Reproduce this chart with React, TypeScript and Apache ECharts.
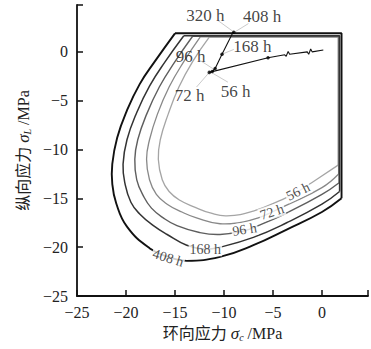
import React, { useEffect, useRef } from 'react';
import * as echarts from 'echarts';

// Axis ranges and ticks
const X_MIN = -25;
const X_MAX = 4.7;
const Y_MIN = -25;
const Y_MAX = 4.8;
const xTickLabels = [-25, -20, -15, -10, -5, 0];
const yTickLabels = [-25, -20, -15, -10, -5, 0];

// Contour envelopes: straight parts (right edge + top edge)
const edge408 = [[2.0, -15.0], [2.0, 1.9], [-15.0, 1.9]];
const edge168 = [[1.8, -14.3], [1.8, 1.65], [-14.1, 1.65]];
const edge96 = [[1.75, -13.4], [1.75, 1.6], [-13.2, 1.6]];
const edge72 = [[1.7, -12.5], [1.7, 1.55], [-12.4, 1.55]];
const edge56 = [[1.65, -11.6], [1.65, 1.5], [-11.5, 1.5]];

// Contour envelopes: curved parts
const curve408 = [
  [-15.0, 1.9], [-17.0, -0.9], [-18.6, -3.3], [-19.9, -6.0], [-20.9, -8.8], [-21.4, -11.5],
  [-21.4, -13.5], [-21.0, -15.5], [-19.9, -17.9], [-17.6, -20.1], [-15.7, -21.0], [-13.8, -21.4],
  [-10.4, -21.0], [-7.0, -19.8], [-3.6, -18.2], [0.0, -16.4], [2.0, -15.0],
];
const curve168 = [
  [-14.1, 1.65], [-16.0, -1.0], [-17.6, -3.5], [-18.9, -6.2], [-19.9, -9.0], [-20.3, -11.5],
  [-20.1, -13.5], [-19.5, -15.4], [-18.6, -16.6], [-17.2, -17.8], [-15.8, -18.7], [-13.8, -19.8],
  [-11.9, -20.2], [-10.4, -20.0], [-7.0, -19.0], [-3.6, -17.5], [0.0, -15.6], [1.8, -14.3],
];
const curve96 = [
  [-13.2, 1.6], [-15.0, -1.0], [-16.6, -3.6], [-17.9, -6.4], [-18.8, -9.0], [-19.1, -11.0],
  [-18.9, -13.1], [-18.2, -14.8], [-17.4, -16.0], [-16.2, -17.0], [-14.8, -17.8], [-12.5, -18.5],
  [-10.4, -18.7], [-7.9, -18.3], [-6.5, -17.8], [-3.6, -16.5], [0.0, -14.6], [1.75, -13.4],
];
const curve72 = [
  [-12.4, 1.55], [-14.1, -1.0], [-15.6, -3.6], [-16.8, -6.4], [-17.6, -9.0], [-17.9, -11.0],
  [-17.6, -13.1], [-16.9, -14.6], [-15.8, -15.6], [-14.3, -16.4], [-12.8, -17.0], [-10.4, -17.6],
  [-8.0, -17.4], [-6.5, -17.0], [-5.1, -16.4], [-3.6, -15.7], [0.0, -13.9], [1.7, -12.5],
];
const curve56 = [
  [-11.5, 1.5], [-13.2, -1.0], [-14.6, -3.6], [-15.7, -6.4], [-16.5, -9.0], [-16.7, -11.0],
  [-16.3, -13.1], [-15.6, -14.3], [-14.5, -15.2], [-13.0, -15.9], [-11.4, -16.5], [-9.7, -16.8],
  [-7.0, -16.3], [-4.0, -15.1], [-2.45, -14.3], [-1.05, -13.4], [1.65, -11.6],
];

// Labels on the contours
const contourLabelNames = ['56 h', '72 h', '96 h', '168 h', '408 h'];
const contourLabelPos = [[-2.45, -14.3], [-5.1, -16.4], [-7.9, -18.2], [-11.9, -20.2], [-15.7, -21.1]];
const contourLabelRot = [26, 18, 9, 0, -17];

// Stress trajectory
const trajectory = [
  [0.14, 0.2], [-1.0, 0.0], [-1.15, 0.3], [-1.35, -0.25], [-1.5, 0.0],
  [-3.3, -0.25], [-3.45, 0.05], [-3.65, -0.45], [-3.8, -0.3],
  [-5.5, -0.6], [-11.5, -2.1], [-11.2, -2.0], [-10.9, -1.7], [-10.2, -0.24], [-9.1, 1.95], [-8.95, 2.0],
];
const trajDots = [[-5.5, -0.6], [-11.5, -2.1], [-11.2, -2.0], [-10.9, -1.7], [-10.2, -0.24], [-9.0, 2.0]];

// Trajectory time labels
const trajLabelNames = ['320 h', '408 h', '168 h', '96 h', '72 h', '56 h'];
const trajLabelPos = [[-11.9, 3.7], [-6.1, 3.6], [-7.1, 0.5], [-13.4, -0.5], [-13.5, -4.5], [-8.8, -4.1]];

// Leader lines from trajectory points to labels
const leaders = [
  [[-8.95, 2.0], [-10.6, 3.2]],
  [[-8.95, 2.0], [-7.5, 2.9]],
  [[-10.2, -0.24], [-9.0, 0.25]],
  [[-12.4, -0.9], [-11.0, -1.8]],
  [[-11.3, -2.1], [-9.6, -3.1]],
  [[-11.5, -2.1], [-12.8, -3.6]],
];

const FONT = 'Liberation Serif, Times New Roman, Noto Sans CJK SC, serif';

const fmt = (v: number) => (v < 0 ? '\u2212' + Math.abs(v) : String(v));

export default function App() {
  const ref = useRef<HTMLDivElement>(null);
  useEffect(() => {
    if (!ref.current) return;
    const chart = echarts.init(ref.current, undefined, { renderer: 'svg' });

    const contours = [
      { edge: edge56, curve: curve56, color: '#a5a5a5', width: 1.3 },
      { edge: edge72, curve: curve72, color: '#888888', width: 1.3 },
      { edge: edge96, curve: curve96, color: '#5e5e5e', width: 1.4 },
      { edge: edge168, curve: curve168, color: '#333333', width: 1.5 },
      { edge: edge408, curve: curve408, color: '#111111', width: 1.9 },
    ];

    const series: any[] = [];
    contours.forEach((c, i) => {
      series.push({
        type: 'line', data: c.edge, symbol: 'none', smooth: false, z: 2 + i,
        lineStyle: { color: c.color, width: c.width },
      });
      const curve = c.curve;
      series.push({
        type: 'custom', data: curve, z: 2 + i,
        encode: { x: 0, y: 1 },
        renderItem: (params: any, api: any) => {
          if (params.dataIndex !== 0) return null;
          const pts = curve.map((p) => api.coord(p));
          return {
            type: 'polyline',
            shape: { points: pts, smooth: 0.45 },
            style: { stroke: c.color, lineWidth: c.width, fill: null },
          };
        },
      });
    });

    leaders.forEach((l) => {
      series.push({
        type: 'line', data: l, symbol: 'none', z: 8,
        lineStyle: { color: '#c4c4c4', width: 0.9 },
      });
    });

    series.push({
      type: 'line', data: trajectory, symbol: 'none', z: 12,
      lineStyle: { color: '#111', width: 1.1 },
    });
    series.push({
      type: 'scatter', data: trajDots, symbolSize: 3.5, z: 13,
      itemStyle: { color: '#000' },
    });

    series.push({
      type: 'scatter', symbolSize: 0, z: 20,
      data: contourLabelNames.map((n, i) => ({
        value: contourLabelPos[i], name: n,
        label: { rotate: contourLabelRot[i] },
      })),
      label: {
        show: true, position: 'inside', formatter: '{b}', color: '#222',
        fontFamily: FONT, fontSize: 14, backgroundColor: '#fff', padding: [0, 1, 0, 1],
      },
    });

    series.push({
      type: 'scatter', symbolSize: 0, z: 20,
      data: trajLabelNames.map((n, i) => ({ value: trajLabelPos[i], name: n })),
      label: {
        show: true, position: 'inside', formatter: '{b}', color: '#111',
        fontFamily: FONT, fontSize: 17,
      },
    });

    const rich = {
      n: { fontFamily: FONT, fontSize: 16, color: '#222' },
      i: { fontFamily: FONT, fontSize: 17, fontStyle: 'italic', color: '#222' },
      s: { fontFamily: FONT, fontSize: 10, fontStyle: 'italic', color: '#222', padding: [8, 0, 0, 0] },
    };

    chart.setOption({
      animation: false,
      backgroundColor: '#fff',
      textStyle: { fontFamily: FONT },
      grid: { left: 77, right: 3, top: 5, bottom: 53 },
      xAxis: {
        type: 'value', min: X_MIN, max: X_MAX, interval: 5,
        splitLine: { show: false },
        axisLine: { onZero: false, lineStyle: { color: '#111', width: 1.8 } },
        axisTick: { inside: true, length: 6, lineStyle: { color: '#111', width: 1.5 }, customValues: [...xTickLabels, X_MAX] },
        axisLabel: { customValues: xTickLabels, formatter: fmt, color: '#222', fontFamily: FONT, fontSize: 16, margin: 8 },
        name: '{n|环向应力 }{i|σ}{s|c}{n| /MPa}',
        nameLocation: 'middle', nameGap: 28,
        nameTextStyle: { rich, fontFamily: FONT },
      },
      yAxis: {
        type: 'value', min: Y_MIN, max: Y_MAX, interval: 5,
        splitLine: { show: false },
        axisLine: { onZero: false, lineStyle: { color: '#111', width: 1.8 } },
        axisTick: { inside: true, length: 6, lineStyle: { color: '#111', width: 1.5 }, customValues: [...yTickLabels, Y_MAX] },
        axisLabel: { customValues: yTickLabels, formatter: fmt, color: '#222', fontFamily: FONT, fontSize: 16, margin: 9 },
        name: '{n|纵向应力 }{i|σ}{s|L}{n| /MPa}',
        nameLocation: 'middle', nameGap: 44,
        nameTextStyle: { rich, fontFamily: FONT },
      },
      series,
    });
    return () => chart.dispose();
  }, []);
  return <div ref={ref} style={{ position: 'fixed', left: 0, top: 0, width: 371, height: 349 }} />;
}
